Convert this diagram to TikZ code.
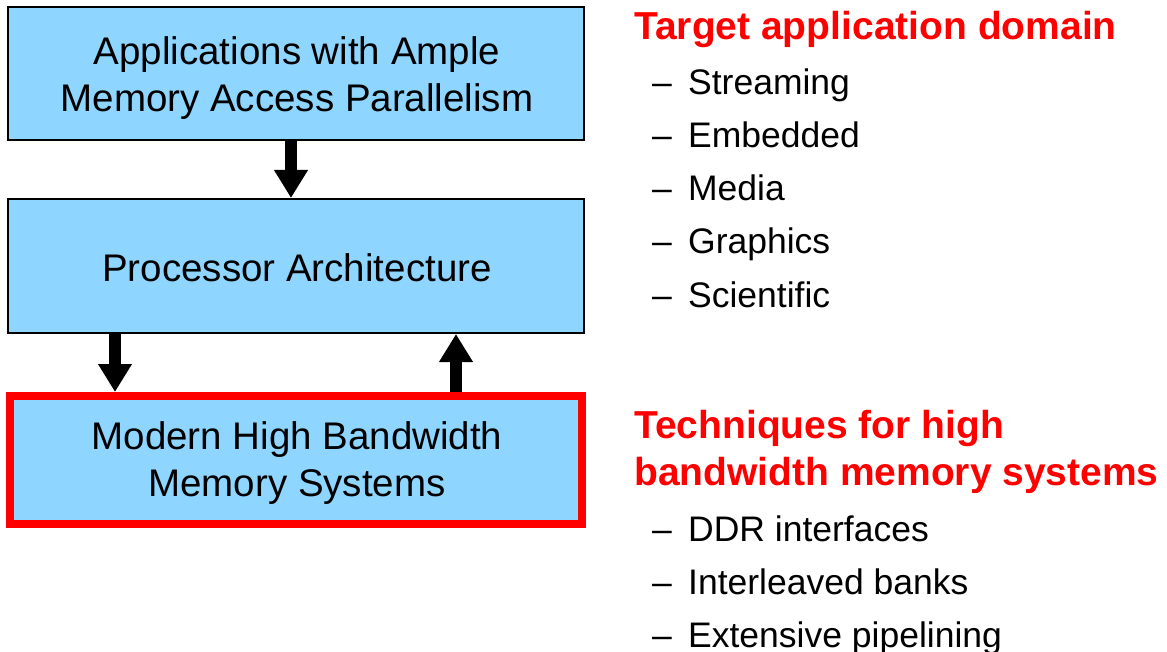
\documentclass[tikz,border=0pt]{standalone}
\usepackage{fontspec}
\setmainfont{Liberation Sans}
\usetikzlibrary{arrows.meta}
\definecolor{boxblue}{RGB}{142,214,255}
\definecolor{headred}{RGB}{255,0,0}
\tikzset{
  layer/.style={draw=black, line width=2pt, fill=boxblue,
    minimum width=576pt, inner sep=0pt},
  layertext/.style={align=center, inner sep=0pt,
    font=\fontsize{38.5}{47}\selectfont},
  hot/.style={draw=headred, line width=8pt},
  flow/.style={line width=12pt, -{Triangle[width=32pt,length=28pt]}},
  heading/.style={anchor=base west, inner sep=0pt, text=headred,
    font=\fontsize{39}{47}\selectfont\bfseries},
  item/.style={anchor=base west, inner sep=0pt,
    font=\fontsize{35.5}{43}\selectfont}
}
\newcommand{\itm}[1]{\makebox[36pt][l]{–}#1}
\begin{document}
\begin{tikzpicture}[x=1pt, y=-1pt]
\useasboundingbox (0,0) rectangle (1167,652);

% the three layers
\node[layer, minimum height=133pt] (apps) at (296,73.5) {};
\node[layer, minimum height=134pt] (proc) at (296,266) {};
\node[layer, hot, minimum width=572pt, minimum height=128pt] (mem) at (296,460) {};

\node[layertext] (appstext) at (297,78.5)
  {Applications with Ample\\Memory Access Parallelism};
\node[layertext] (proctext) at (297,268) {Processor Architecture};
\node[layertext] (memtext) at (297,463.5)
  {Modern High Bandwidth\\Memory Systems};

% connectors between layers
\draw[flow] ([xshift=-5pt]apps.south) -- ([xshift=-5pt]proc.north);
\draw[flow] ([xshift=-181pt]proc.south) -- ([xshift=-181pt]mem.north);
\draw[flow] ([xshift=160pt]mem.north) -- ([xshift=160pt]proc.south);

% application domains
\node[heading] (domhead) at (634,40) {Target application domain};
\node[item] (d1) at (652,95)  {\itm{Streaming}};
\node[item] (d2) at (652,148) {\itm{Embedded}};
\node[item] (d3) at (652,201) {\itm{Media}};
\node[item] (d4) at (652,254) {\itm{Graphics}};
\node[item] (d5) at (652,308) {\itm{Scientific}};

% memory techniques
\node[heading] (techhead1) at (634,438) {Techniques for high};
\node[heading] (techhead2) at (634,485) {bandwidth memory systems};
\node[item] (t1) at (652,541) {\itm{DDR interfaces}};
\node[item] (t2) at (652,594) {\itm{Interleaved banks}};
\node[item] (t3) at (652,647) {\itm{Extensive pipelining}};
\end{tikzpicture}
\end{document}
